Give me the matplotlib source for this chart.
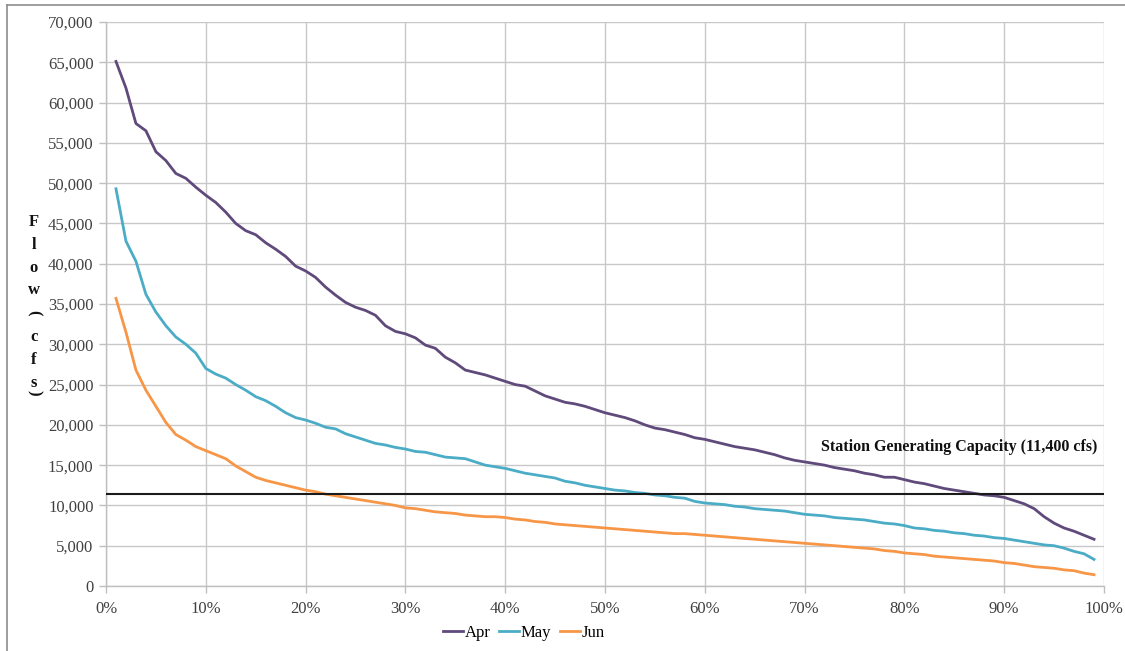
import matplotlib
matplotlib.use("Agg")
import matplotlib.pyplot as plt
from matplotlib.ticker import FuncFormatter, MultipleLocator
from matplotlib.lines import Line2D

exceedance = list(range(1, 100))

apr = [65100, 61800, 57400, 56500, 53900, 52800, 51200, 50600, 49500, 48500,
       47600, 46400, 45000, 44100, 43600, 42600, 41800, 40900, 39700, 39100,
       38300, 37100, 36100, 35200, 34600, 34200, 33600, 32300, 31600, 31300,
       30800, 29900, 29500, 28400, 27700, 26800, 26500, 26200, 25800, 25400,
       25000, 24800, 24200, 23600, 23200, 22800, 22600, 22300, 21900, 21500,
       21200, 20900, 20500, 20000, 19600, 19400, 19100, 18800, 18400, 18200,
       17900, 17600, 17300, 17100, 16900, 16600, 16300, 15900, 15600, 15400,
       15200, 15000, 14700, 14500, 14300, 14000, 13800, 13500, 13500, 13200,
       12900, 12700, 12400, 12100, 11900, 11700, 11500, 11300, 11200, 11000,
       10600, 10200, 9600, 8600, 7800, 7200, 6800, 6300, 5800]

may = [49300, 42800, 40300, 36200, 34000, 32300, 30900, 30000, 28900, 27000,
       26300, 25800, 25000, 24300, 23500, 23000, 22300, 21500, 20900, 20600,
       20200, 19700, 19500, 18900, 18500, 18100, 17700, 17500, 17200, 17000,
       16700, 16600, 16300, 16000, 15900, 15800, 15400, 15000, 14800, 14600,
       14300, 14000, 13800, 13600, 13400, 13000, 12800, 12500, 12300, 12100,
       11900, 11800, 11600, 11500, 11300, 11200, 11000, 10900, 10500, 10300,
       10200, 10100, 9900, 9800, 9600, 9500, 9400, 9300, 9100, 8900,
       8800, 8700, 8500, 8400, 8300, 8200, 8000, 7800, 7700, 7500,
       7200, 7100, 6900, 6800, 6600, 6500, 6300, 6200, 6000, 5900,
       5700, 5500, 5300, 5100, 5000, 4700, 4300, 4000, 3300]

jun = [35700, 31500, 26800, 24300, 22300, 20300, 18800, 18100, 17300, 16800,
       16300, 15800, 14900, 14200, 13500, 13100, 12800, 12500, 12200, 11900,
       11700, 11400, 11200, 11000, 10800, 10600, 10400, 10200, 10000, 9700,
       9600, 9400, 9200, 9100, 9000, 8800, 8700, 8600, 8600, 8500,
       8300, 8200, 8000, 7900, 7700, 7600, 7500, 7400, 7300, 7200,
       7100, 7000, 6900, 6800, 6700, 6600, 6500, 6500, 6400, 6300,
       6200, 6100, 6000, 5900, 5800, 5700, 5600, 5500, 5400, 5300,
       5200, 5100, 5000, 4900, 4800, 4700, 4600, 4400, 4300, 4100,
       4000, 3900, 3700, 3600, 3500, 3400, 3300, 3200, 3100, 2900,
       2800, 2600, 2400, 2300, 2200, 2000, 1900, 1600, 1400]

capacity = 11400
capacity_label = "Station Generating Capacity (11,400 cfs)"
series_names = ["Apr", "May", "Jun"]
series_colors = ["#604A7B", "#4BACC6", "#F79646"]
ylabel_chars = ["F", "l", "o", "w", "(", "c", "f", "s", ")"]

plt.rcParams['font.family'] = ['Liberation Serif', 'DejaVu Serif']

W, H = 1125, 651
fig = plt.figure(figsize=(W / 100, H / 100), dpi=100)
ax = fig.add_axes([106 / W, 1 - 586 / H, (1104 - 106) / W, (586 - 22) / H])

for name, vals, col in zip(series_names, [apr, may, jun], series_colors):
    ax.plot(exceedance, vals, color=col, lw=2.0, label=name, solid_joinstyle='round')

ax.axhline(capacity, color='#1a1a1a', lw=1.5, zorder=3)
ax.text(99.3, 17250, capacity_label, ha='right', va='center',
        fontsize=11.5, fontweight='bold', color='#111111')

ax.set_xlim(0, 100)
ax.set_ylim(0, 70000)
ax.xaxis.set_major_locator(MultipleLocator(10))
ax.yaxis.set_major_locator(MultipleLocator(5000))
ax.xaxis.set_major_formatter(FuncFormatter(lambda v, p: f"{int(round(v))}%"))
ax.yaxis.set_major_formatter(FuncFormatter(lambda v, p: f"{int(v):,}"))
ax.grid(True, color='#c8c8c8', lw=1.0)
ax.set_axisbelow(True)
for s in ['top', 'right']:
    ax.spines[s].set_visible(False)
for s in ['left', 'bottom']:
    ax.spines[s].set_color('#bfbfbf')
    ax.spines[s].set_linewidth(1.0)
ax.tick_params(axis='both', colors='#bfbfbf', length=5, width=1.0,
               labelcolor='#404040', labelsize=12)
ax.tick_params(axis='x', pad=6)
ax.tick_params(axis='y', pad=4)

# stacked y-axis label
ys = [222, 245, 268, 290, 313, 337, 360, 383, 393]
for ch, yp in zip(ylabel_chars, ys):
    rot = 270 if ch in "()" else 0
    fig.text(34 / W, 1 - yp / H, ch, ha='center', va='center', fontsize=12,
             fontweight='bold', rotation=rot, color='#111111')

handles = [Line2D([0], [0], color=c, lw=2.0) for c in series_colors]
fig.legend(handles, series_names, loc='center', bbox_to_anchor=(524 / W, 1 - 633 / H),
           ncol=3, frameon=False, fontsize=12, handlelength=1.2, handletextpad=0.1,
           columnspacing=0.5)

# outer frame
fig.add_artist(Line2D([7 / W, 7 / W], [0, 1 - 5 / H], color='#8c8c8c', lw=1.2,
                      transform=fig.transFigure))
fig.add_artist(Line2D([7 / W, 1], [1 - 5 / H, 1 - 5 / H], color='#8c8c8c', lw=1.2,
                      transform=fig.transFigure))

fig.savefig("out.png", dpi=100)
